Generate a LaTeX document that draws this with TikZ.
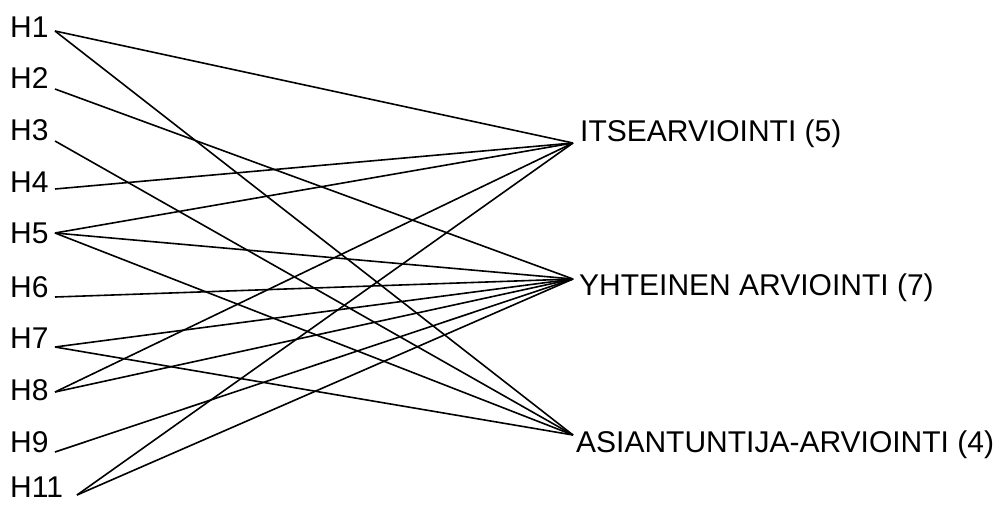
\documentclass[tikz,border=0pt]{standalone}
\usepackage{fontspec}
\setmainfont{Liberation Sans}
\usetikzlibrary{positioning}
\tikzset{
  lbl/.style={font=\fontsize{30pt}{36pt}\selectfont, inner sep=0pt, anchor=base west},
  link/.style={line width=1.6pt, black}
}

\begin{document}
\begin{tikzpicture}[x=1pt, y=-1pt]
  \useasboundingbox (0,0) rectangle (998,504);

  % left column: H labels and line start points
  \foreach \n/\yb/\xe/\ye in {1/37/55/31, 2/88/55/89, 3/140/55/141, 4/192/55/189,
      5/243/55/233, 6/297/55/297, 7/348/55/347, 8/400/55/392, 9/452/55/452, 11/497/77/495} {
    \node[lbl] (l\n) at (10,\yb) {H\n};
    \coordinate (h\n) at (\xe,\ye);
  }

  % right column: evaluation types
  \coordinate (itse) at (573,143);
  \coordinate (yht) at (573,279);
  \coordinate (asi) at (573,435);
  \node[lbl] (litse) at (580,141) {ITSEARVIOINTI (5)};
  \node[lbl] (lyht) at (579,295) {YHTEINEN ARVIOINTI (7)};
  \node[lbl] (lasi) at (576,452) {ASIANTUNTIJA-ARVIOINTI (4)};

  % connections
  \foreach \a/\b in {h1/itse, h4/itse, h5/itse, h8/itse, h11/itse,
      h2/yht, h5/yht, h6/yht, h7/yht, h8/yht, h9/yht, h11/yht,
      h1/asi, h3/asi, h5/asi, h7/asi}
    \draw[link] (\a) -- (\b);
\end{tikzpicture}
\end{document}
